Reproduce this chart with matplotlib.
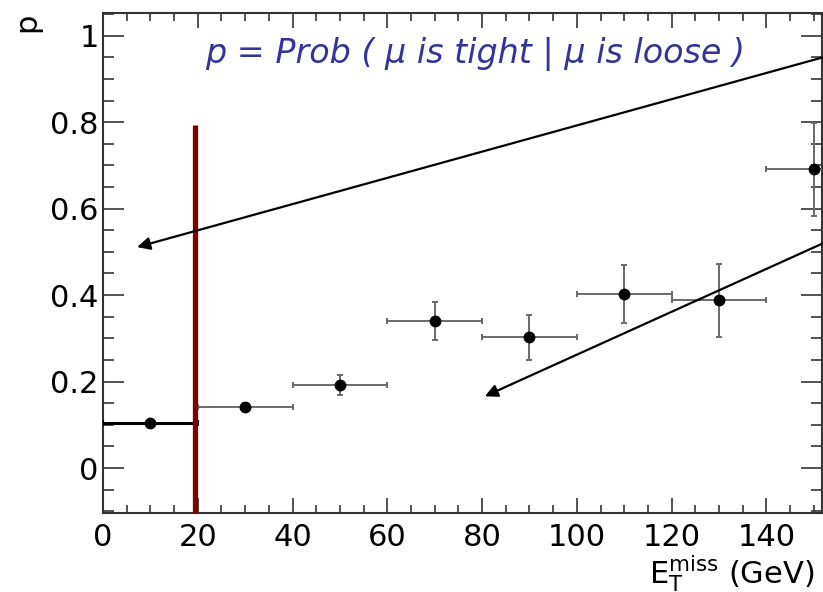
import matplotlib
matplotlib.use("Agg")
import matplotlib.pyplot as plt
from matplotlib.ticker import MultipleLocator

# bin centres, half widths, values and errors
x = [10, 30, 50, 70, 90, 110, 130, 150]
xerr = [10, 10, 10, 10, 10, 10, 10, 10]
p = [0.104, 0.141, 0.192, 0.341, 0.302, 0.402, 0.388, 0.691]
perr = [0.0, 0.010, 0.023, 0.044, 0.053, 0.067, 0.085, 0.108]

cut_x = 19.4
cut_top = 0.793

# arrows: (tail x, tail y) -> (head x, head y)
arrow_tails = [(152.0, 0.950), (152.0, 0.520)]
arrow_heads = [(7.2, 0.511), (80.6, 0.166)]

title = "p = Prob ( \u03bc is tight | \u03bc is loose )"

fig = plt.figure(figsize=(8.23, 5.92), dpi=100)
ax = fig.add_axes([0.1252, 0.1334, 0.9985 - 0.1252, 0.9785 - 0.1334])

ax.set_xlim(0, 151.7)
ax.set_ylim(-0.104, 1.053)

# first bin drawn in black, the rest with grey error bars
ax.errorbar(x[:1], p[:1], xerr=xerr[:1], fmt="o", color="black", ms=7.5,
            ecolor="black", elinewidth=2.2, capsize=2.5, capthick=1.5, zorder=3)
ax.errorbar(x[1:], p[1:], xerr=xerr[1:], yerr=perr[1:], fmt="o", color="black",
            ms=7.5, ecolor="#6a6a6a", elinewidth=1.4, capsize=2.5, capthick=1.4,
            zorder=3)

ax.plot([cut_x, cut_x], [-0.104, cut_top], color="#800000", lw=3.8,
        solid_capstyle="butt", zorder=4)

for tail, head in zip(arrow_tails, arrow_heads):
    ax.annotate("", xy=head, xytext=tail, annotation_clip=False,
                arrowprops=dict(arrowstyle="-|>", color="black", lw=1.6,
                                mutation_scale=19, shrinkA=0, shrinkB=0),
                zorder=5)

for s in ax.spines.values():
    s.set_color("#333333")
    s.set_linewidth(1.5)

ax.xaxis.set_major_locator(MultipleLocator(20))
ax.xaxis.set_minor_locator(MultipleLocator(5))
ax.yaxis.set_major_locator(MultipleLocator(0.2))
ax.yaxis.set_minor_locator(MultipleLocator(0.05))
ax.set_yticks([0, 0.2, 0.4, 0.6, 0.8, 1.0])
ax.set_yticklabels(["0", "0.2", "0.4", "0.6", "0.8", "1"])

ax.tick_params(axis="both", which="both", direction="in", top=True, right=True,
               color="#444444", width=1.3, labelsize=22)
ax.tick_params(axis="x", which="major", length=11, pad=7)
ax.tick_params(axis="x", which="minor", length=6)
ax.tick_params(axis="y", which="major", length=15, pad=3)
ax.tick_params(axis="y", which="minor", length=8)

fig.text(0.577, 1 - 63 / 592, title, ha="center", va="baseline",
         fontsize=24, style="italic", color="#33339b")

fig.text(815 / 823, 1 - 583 / 592,
         r"E$_\mathregular{T}^\mathregular{miss}$ (GeV)",
         ha="right", va="baseline", fontsize=22)
fig.text(27 / 823, 1 - 22 / 592, "p", rotation=90, ha="center", va="center",
         fontsize=22)

fig.savefig("out.png", dpi=100)
